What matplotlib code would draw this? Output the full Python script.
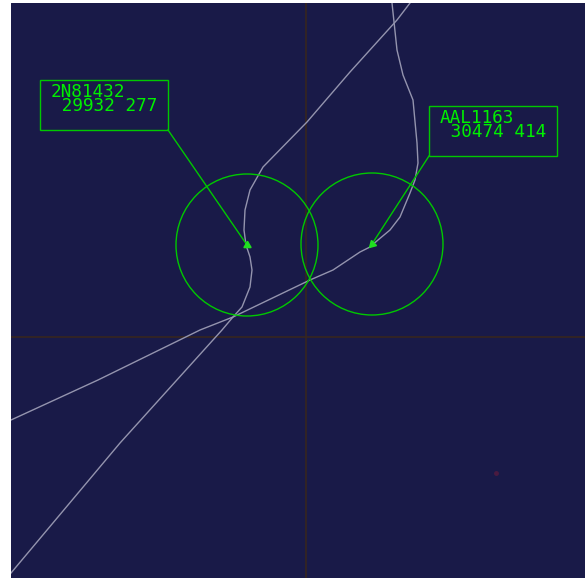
import numpy as np
import matplotlib.pyplot as plt
from matplotlib.patches import Circle, Rectangle

# scope frame (screen units, y grows downward)
X_MIN, X_MAX = 11, 585
Y_MIN, Y_MAX = 3, 579
CROSS_X, CROSS_Y = 306, 337

BG = '#191a48'
TRACK = '#9494ae'
GREEN = '#00c800'
TEXT_GREEN = '#00f000'

# tracks
track_a_x = [410, 397, 350, 307, 263, 250, 245, 244, 246, 250, 252, 250, 242, 233, 222, 120, 11]
track_a_y = [3, 20, 72, 122, 167, 190, 210, 230, 245, 257, 270, 287, 307, 317, 330, 443, 573]

track_b_x = [392, 397, 403, 413, 417, 418, 415, 410, 400, 390, 378, 370, 360, 333, 310, 233, 200, 98, 11]
track_b_y = [3, 50, 75, 100, 143, 163, 180, 193, 217, 230, 240, 247, 252, 270, 280, 317, 330, 380, 420]

# aircraft
callsigns = ['2N81432', 'AAL1163']
data_lines = ['29932 277', '30474 414']
ac_x = [247, 372]
ac_y = [245, 244]
headings = [0, 225]          # deg, clockwise from north
ring_radius = 71
box_x = [40, 429]
box_y = [80, 106]
box_w = 128
box_h = 50
leader_from = ['br', 'bl']

fig = plt.figure(figsize=(5.85, 5.79), dpi=100)
fig.patch.set_facecolor('white')
ax = fig.add_axes([X_MIN / 585, 1 / 579, (X_MAX - X_MIN) / 585, (Y_MAX - Y_MIN - 1) / 579])
ax.set_facecolor(BG)
ax.set_xlim(X_MIN, X_MAX)
ax.set_ylim(Y_MAX - 1, Y_MIN)
ax.set_axis_off()
ax.add_patch(Rectangle((X_MIN, Y_MIN), X_MAX - X_MIN, Y_MAX - Y_MIN, color=BG, zorder=0))

# crosshair
ax.axvline(CROSS_X, color='#36261f', lw=1.2, zorder=1)
ax.axhline(CROSS_Y, color='#36261f', lw=1.2, zorder=1)

ax.plot(track_a_x, track_a_y, color=TRACK, lw=1.0, zorder=2)
ax.plot(track_b_x, track_b_y, color=TRACK, lw=1.0, zorder=2)

for i in range(len(callsigns)):
    ax.add_patch(Circle((ac_x[i], ac_y[i]), ring_radius, fill=False,
                        ec=GREEN, lw=1.0, zorder=3))
    ax.add_patch(Rectangle((box_x[i], box_y[i]), box_w, box_h, fill=False,
                           ec=GREEN, lw=1.0, zorder=3))
    lx = box_x[i] + box_w if leader_from[i] == 'br' else box_x[i]
    ly = box_y[i] + box_h
    ax.plot([lx, ac_x[i]], [ly, ac_y[i]], color=GREEN, lw=1.0, zorder=3)
    ax.plot(ac_x[i], ac_y[i], marker=(3, 0, -headings[i]), ms=6,
            color='#20e020', zorder=4)
    # data block: callsign, then altitude / speed indented one column
    ax.text(box_x[i] + 11, box_y[i] + 3, callsigns[i] + '\n ' + data_lines[i],
            color=TEXT_GREEN, family='DejaVu Sans Mono', fontsize=12.8,
            va='top', ha='left', linespacing=0.72)

# small stray return
ax.plot(496, 473, marker='o', ms=2.5, color='#4a1a40', zorder=2)

fig.savefig('out.png', dpi=100, facecolor='white')
